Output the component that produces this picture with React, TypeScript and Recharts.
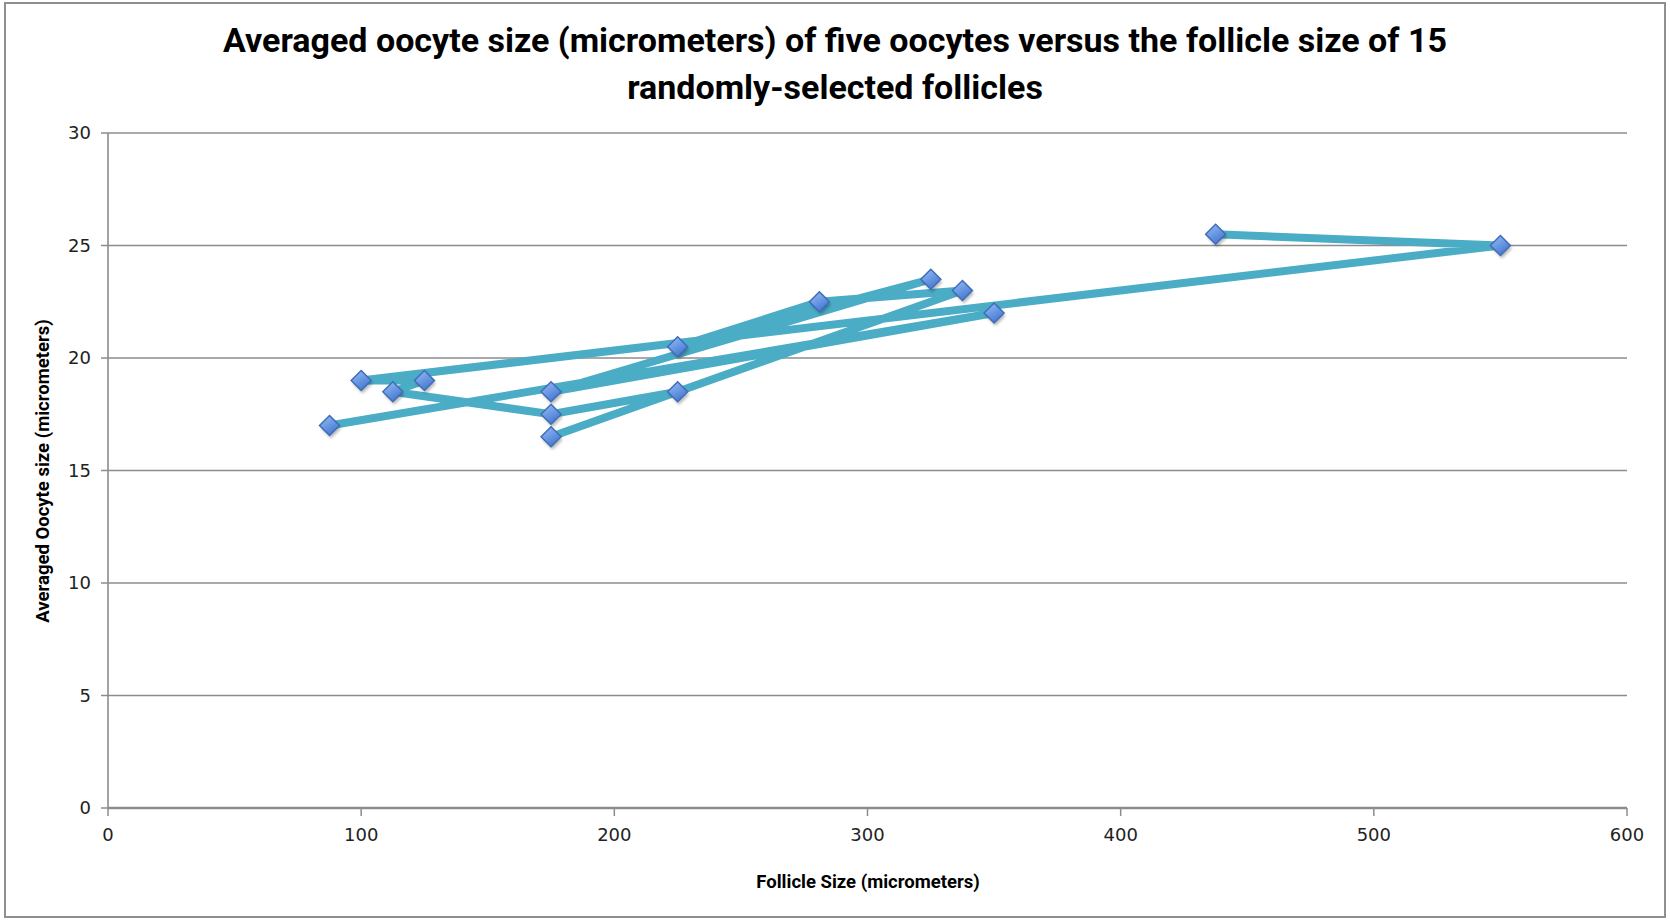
import { LineChart, Line, XAxis, YAxis, CartesianGrid } from 'recharts';

// follicles in the order they were entered
const follicleSize = [87.5, 350, 175, 325, 225, 281, 337.5, 175, 225, 175, 112.5, 125, 100, 550, 437.5];
const oocyteSize = [17, 22, 18.5, 23.5, 20.5, 22.5, 23, 16.5, 18.5, 17.5, 18.5, 19, 19, 25, 25.5];

const xTicks = [0, 100, 200, 300, 400, 500, 600];
const yTicks = [0, 5, 10, 15, 20, 25, 30];

const titleLines = [
  'Averaged oocyte size (micrometers) of five oocytes versus the follicle size of 15',
  'randomly-selected follicles',
];
const xTitle = 'Follicle Size (micrometers)';
const yTitle = 'Averaged Oocyte size (micrometers)';

const data = follicleSize.map((f, i) => ({ follicle: f, oocyte: oocyteSize[i] }));

const LINE = '#4bacc6';
const GRID = '#8c8c8c';
const TEXT_FONT = 'Roboto, "Open Sans", sans-serif';
const TICK_FONT = '"DejaVu Sans", Verdana, sans-serif';

function Diamond(props: any) {
  const { cx, cy, index } = props;
  if (cx == null || cy == null) return null;
  const r = 10;
  const pts = `${cx},${cy - r} ${cx + r},${cy} ${cx},${cy + r} ${cx - r},${cy}`;
  const sx = cx + 1.5;
  const sy = cy + 3;
  const shadow = `${sx},${sy - r} ${sx + r},${sy} ${sx},${sy + r} ${sx - r},${sy}`;
  return (
    <g key={`marker-${index}`}>
      <polygon points={shadow} fill="#000" opacity={0.28} filter="url(#markerShadow)" />
      <polygon points={pts} fill="url(#markerFill)" stroke="#3f6db8" strokeWidth={1.5} />
    </g>
  );
}

export default function App() {
  return (
    <div
      style={{
        position: 'absolute',
        left: 0,
        top: 0,
        width: 1670,
        height: 920,
        background: '#fff',
        overflow: 'hidden',
      }}
    >
      <div
        style={{
          position: 'absolute',
          left: 4,
          top: 2,
          width: 1658,
          height: 912,
          border: '2px solid #8f8f8f',
        }}
      />
      <div
        style={{
          position: 'absolute',
          left: 0,
          top: 17,
          width: 1670,
          textAlign: 'center',
          fontFamily: TEXT_FONT,
          fontWeight: 700,
          fontSize: 34,
          lineHeight: '47px',
          color: '#000',
        }}
      >
        {titleLines.map((t) => (
          <div key={t}>{t}</div>
        ))}
      </div>

      <LineChart
        width={1670}
        height={920}
        data={data}
        margin={{ top: 133, right: 43, left: 48, bottom: 82 }}
        style={{ position: 'absolute', left: 0, top: 0 }}
      >
        <defs>
          <linearGradient id="markerFill" x1="0" y1="0" x2="0.6" y2="1">
            <stop offset="0%" stopColor="#9cc0f5" />
            <stop offset="55%" stopColor="#6a98e3" />
            <stop offset="100%" stopColor="#4477cf" />
          </linearGradient>
          <filter id="markerShadow" x="-50%" y="-50%" width="200%" height="200%">
            <feGaussianBlur stdDeviation="1.6" />
          </filter>
        </defs>
        <CartesianGrid horizontal vertical={false} stroke={GRID} strokeWidth={1.6} />
        <XAxis
          dataKey="follicle"
          type="number"
          domain={[0, 600]}
          ticks={xTicks}
          height={30}
          axisLine={{ stroke: GRID, strokeWidth: 2.5 }}
          tickLine={{ stroke: GRID, strokeWidth: 1.5 }}
          tickSize={8}
          tickMargin={12}
          tick={{ fill: '#222', fontSize: 18, fontFamily: TICK_FONT }}
        />
        <YAxis
          type="number"
          domain={[0, 30]}
          ticks={yTicks}
          width={60}
          axisLine={{ stroke: GRID, strokeWidth: 1.6 }}
          tickLine={{ stroke: GRID, strokeWidth: 1.5 }}
          tickSize={7}
          tickMargin={10}
          tick={{ fill: '#222', fontSize: 18, fontFamily: TICK_FONT }}
        />
        <Line
          type="linear"
          dataKey="oocyte"
          stroke={LINE}
          strokeWidth={8}
          strokeLinejoin="miter"
          dot={Diamond}
          activeDot={false}
          isAnimationActive={false}
        />
      </LineChart>

      <div
        style={{
          position: 'absolute',
          left: 868 - 300,
          top: 871,
          width: 600,
          textAlign: 'center',
          fontFamily: TEXT_FONT,
          fontWeight: 700,
          fontSize: 18.5,
          color: '#000',
        }}
      >
        {xTitle}
      </div>
      <div
        style={{
          position: 'absolute',
          left: 43 - 250,
          top: 471 - 12,
          width: 500,
          height: 24,
          lineHeight: '24px',
          textAlign: 'center',
          transform: 'rotate(-90deg)',
          fontFamily: TEXT_FONT,
          fontWeight: 700,
          fontSize: 18.5,
          color: '#000',
        }}
      >
        {yTitle}
      </div>
    </div>
  );
}
